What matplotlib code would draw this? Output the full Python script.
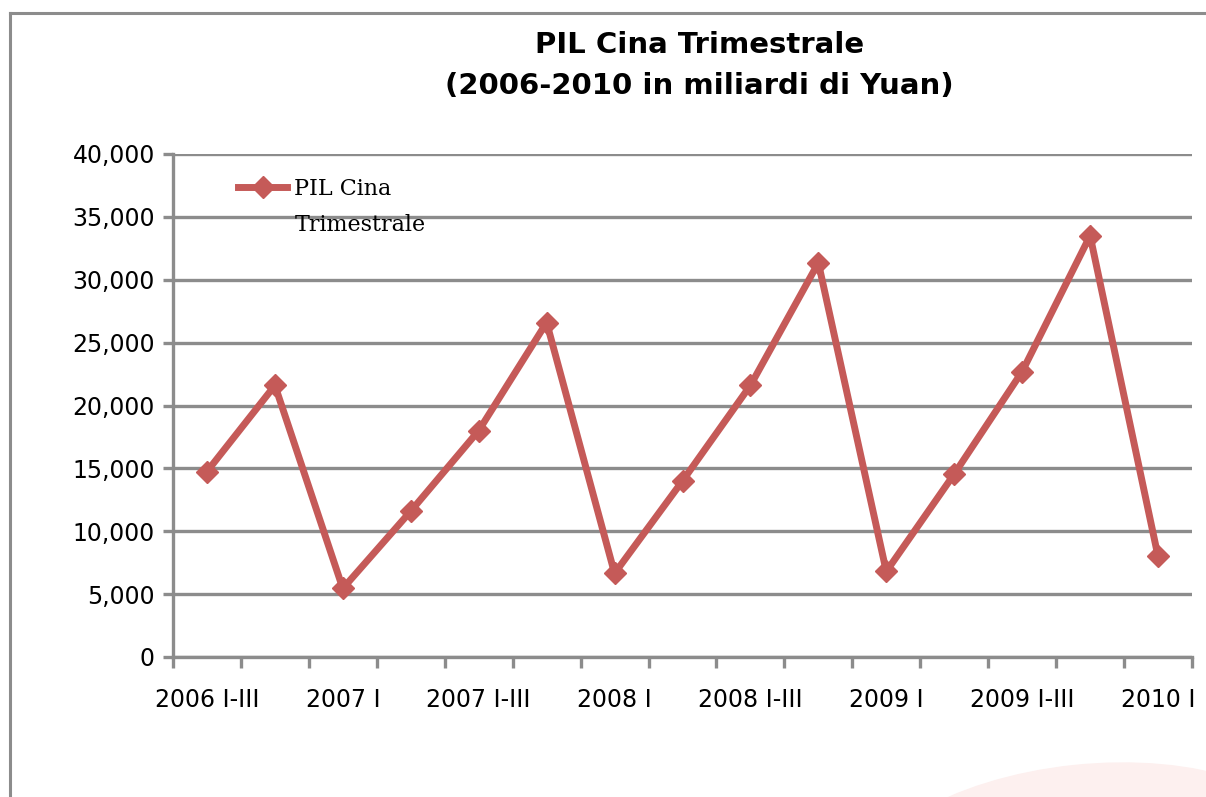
import matplotlib
matplotlib.use("Agg")
import matplotlib.pyplot as plt
from matplotlib.patches import Ellipse
from matplotlib.lines import Line2D
from matplotlib.transforms import IdentityTransform
import numpy as np

# cumulative quarterly GDP, billions of yuan
periods = ["2006 I-III", "2006 I-IV",
           "2007 I", "2007 I-II", "2007 I-III", "2007 I-IV",
           "2008 I", "2008 I-II", "2008 I-III", "2008 I-IV",
           "2009 I", "2009 I-II", "2009 I-III", "2009 I-IV",
           "2010 I"]
gdp = [14750, 21600, 5450, 11600, 18000, 26600,
       6650, 14000, 21600, 31350,
       6800, 14550, 22700, 33500, 8000]
y_ticks = [0, 5000, 10000, 15000, 20000, 25000, 30000, 35000, 40000]

grey = "#8c8c8c"
red = "#c55a58"
sans = ["Liberation Sans Narrow", "DejaVu Sans"]
serif = ["DejaVu Serif"]

fig = plt.figure(figsize=(12.06, 7.97), dpi=100)

# outer chart frame and the pink blob at the bottom right
fig.add_artist(Line2D([10/1206, 10/1206], [0, 1 - 13/797], color=grey, lw=2.2,
                      transform=fig.transFigure))
fig.add_artist(Line2D([10/1206, 1], [1 - 13/797, 1 - 13/797], color=grey, lw=2.2,
                      transform=fig.transFigure))
fig.add_artist(Ellipse((1085, -78), 460, 220, angle=6, color="#fdf0ef",
                       transform=IdentityTransform(), zorder=0))

ax = fig.add_axes([173/1206, 140/797, 1019/1206, 503/797])
x = np.arange(len(periods))
ax.plot(x, gdp, color=red, lw=5, marker="D", markersize=11,
        label="PIL Cina", solid_joinstyle="miter")

ax.set_xlim(-0.5, len(periods) - 0.5)
ax.set_ylim(0, 40000)
ax.set_yticks(y_ticks)
ax.set_yticklabels([f"{v:,}" for v in y_ticks], fontfamily=sans, fontsize=17)
ax.yaxis.grid(True, color=grey, lw=2.4)
ax.set_axisbelow(True)

ax.set_xticks(x[::2])
ax.set_xticklabels(periods[::2], fontfamily=sans, fontsize=17)
ax.set_xticks(np.arange(-0.5, len(periods)), minor=True)
ax.tick_params(axis="x", which="major", length=0, pad=22)
ax.tick_params(axis="x", which="minor", length=8, width=2.4, color=grey)
ax.tick_params(axis="y", length=7, width=2.4, color=grey, pad=6)

for side in ["top", "right"]:
    ax.spines[side].set_visible(False)
for side in ["left", "bottom"]:
    ax.spines[side].set_color(grey)
    ax.spines[side].set_linewidth(2.4)

leg = ax.legend(loc="upper left", bbox_to_anchor=(0.064, 0.952), frameon=False,
                prop={"family": serif, "size": 16}, borderpad=0, borderaxespad=0,
                handlelength=2.2, handletextpad=0.3)
# second line of the legend label sits under the first one
fig.text(295/1206, 1 - 225/797, "Trimestrale", ha="left", va="center",
         fontfamily=serif, fontsize=16)

fig.text(0.58, 1 - 45/797, "PIL Cina Trimestrale", ha="center", va="center",
         fontsize=21, fontweight="bold", fontfamily=sans)
fig.text(0.58, 1 - 86/797, "(2006-2010 in miliardi di Yuan)", ha="center", va="center",
         fontsize=21, fontweight="bold", fontfamily=sans)

fig.savefig("out.png", dpi=100)
